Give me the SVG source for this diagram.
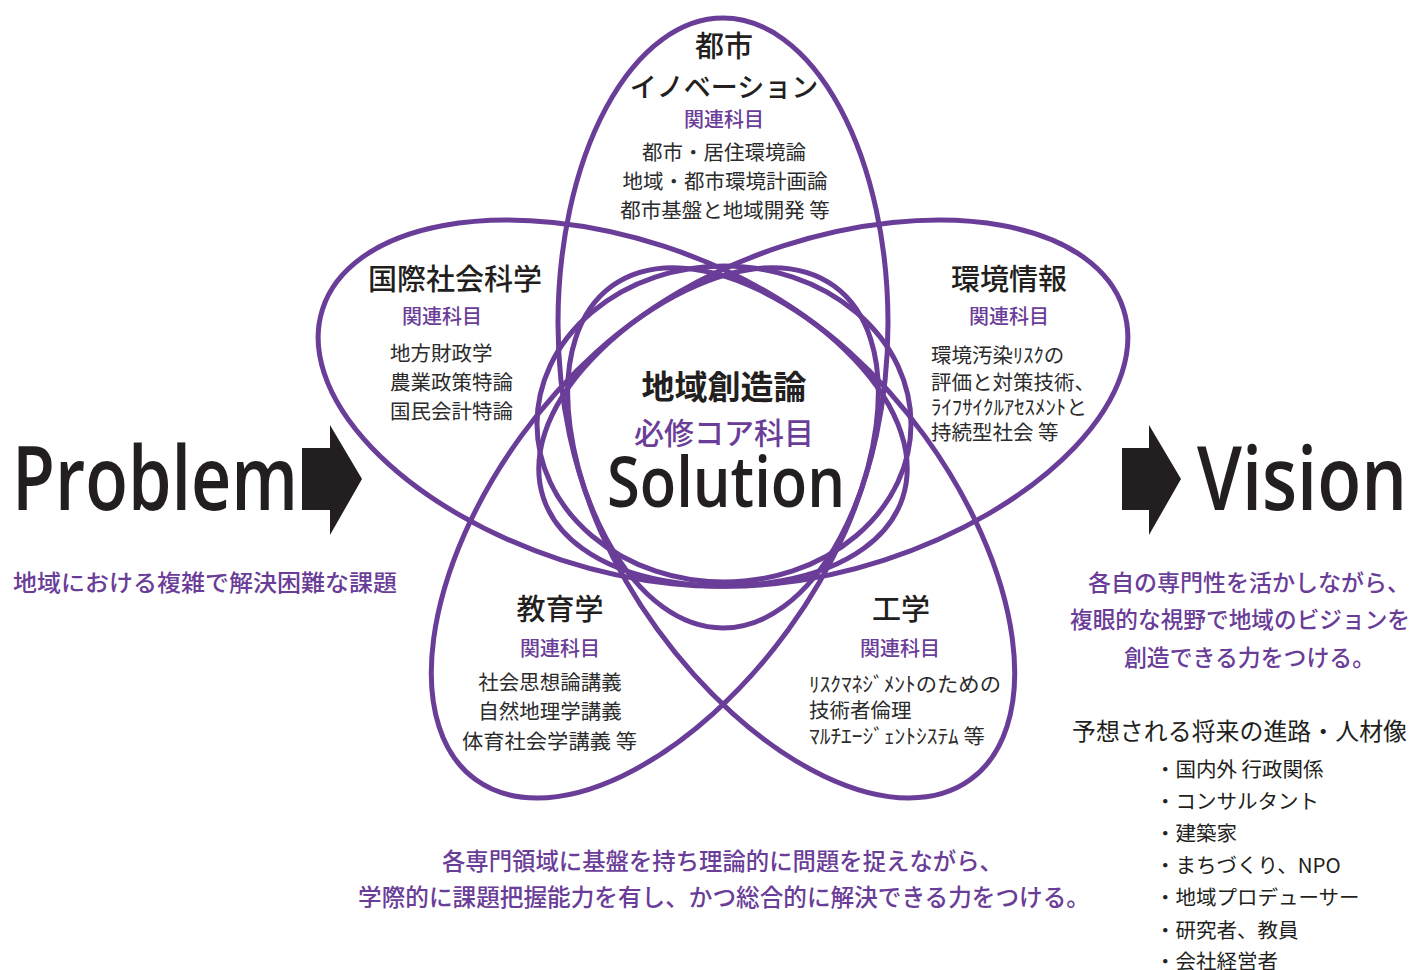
<svg xmlns="http://www.w3.org/2000/svg" width="1412" height="970" viewBox="0 0 1412 970">
<style>
.petal{fill:none;stroke:#6a3d98;stroke-width:5}
.jp{font-family:"Noto Sans CJK JP","Noto Sans",sans-serif;fill:#231f20}
.ttl{font-size:29px;font-weight:500;text-anchor:middle}
.sub{font-size:20px;font-weight:500;fill:#6a3d98;text-anchor:middle}
.itm{font-size:20.5px;font-weight:400;fill:#2b2b2b}
.pur{font-family:"Noto Sans CJK JP","Noto Sans",sans-serif;fill:#6a3d98;font-weight:500}
.big{font-family:"Open Sans","Noto Sans",sans-serif;fill:#231f20;font-weight:600}
.arr{fill:#231f20}
</style>
<rect width="1412" height="970" fill="#ffffff"/>
<g id="petals">
<ellipse id="petal-top" class="petal" cx="723" cy="323" rx="165" ry="305"/>
<ellipse id="petal-upper-right" class="petal" cx="723" cy="323" rx="165" ry="305" transform="rotate(72 723 439)"/>
<ellipse id="petal-lower-right" class="petal" cx="723" cy="323" rx="165" ry="305" transform="rotate(144 723 439)"/>
<ellipse id="petal-lower-left" class="petal" cx="723" cy="323" rx="165" ry="305" transform="rotate(216 723 439)"/>
<ellipse id="petal-upper-left" class="petal" cx="723" cy="323" rx="165" ry="305" transform="rotate(288 723 439)"/>
<ellipse id="core" class="petal" cx="724" cy="424" rx="187" ry="158"/>
</g>
<g id="node-urban">
<text class="jp ttl" x="724" y="57" font-size="28">都市</text>
<text class="jp ttl" x="724" y="97" style="font-size:27px">イノベーション</text>
<text class="jp sub" x="724" y="127">関連科目</text>
<text class="jp itm" x="724" y="160" text-anchor="middle">都市・居住環境論</text>
<text class="jp itm" x="725" y="189" text-anchor="middle">地域・都市環境計画論</text>
<text class="jp itm" x="725" y="218" text-anchor="middle">都市基盤と地域開発 等</text>
</g>
<g id="node-intl">
<text class="jp ttl" x="455" y="290">国際社会科学</text>
<text class="jp sub" x="442" y="324">関連科目</text>
<text class="jp itm" x="390" y="361">地方財政学</text>
<text class="jp itm" x="390" y="390">農業政策特論</text>
<text class="jp itm" x="390" y="419">国民会計特論</text>
</g>
<g id="node-env">
<text class="jp ttl" x="1009" y="290">環境情報</text>
<text class="jp sub" x="1009" y="324">関連科目</text>
<text class="jp itm" x="931" y="363">環境汚染ﾘｽｸの</text>
<text class="jp itm" x="931" y="390">評価と対策技術、</text>
<text class="jp itm" x="931" y="415" textLength="156" lengthAdjust="spacingAndGlyphs">ﾗｲﾌｻｲｸﾙｱｾｽﾒﾝﾄと</text>
<text class="jp itm" x="931" y="440">持続型社会 等</text>
</g>
<g id="node-edu">
<text class="jp ttl" x="560" y="620">教育学</text>
<text class="jp sub" x="560" y="656">関連科目</text>
<text class="jp itm" x="550" y="690" text-anchor="middle">社会思想論講義</text>
<text class="jp itm" x="550" y="719" text-anchor="middle">自然地理学講義</text>
<text class="jp itm" x="462" y="749" textLength="175" lengthAdjust="spacingAndGlyphs">体育社会学講義 等</text>
</g>
<g id="node-eng">
<text class="jp ttl" x="901" y="620">工学</text>
<text class="jp sub" x="900" y="656">関連科目</text>
<text class="jp itm" x="809" y="692" textLength="192" lengthAdjust="spacingAndGlyphs">ﾘｽｸﾏﾈｼﾞﾒﾝﾄのための</text>
<text class="jp itm" x="809" y="718">技術者倫理</text>
<text class="jp itm" x="809" y="744" textLength="176" lengthAdjust="spacingAndGlyphs">ﾏﾙﾁｴｰｼﾞｪﾝﾄｼｽﾃﾑ 等</text>
</g>
<g id="node-core">
<text class="jp" x="724" y="399" text-anchor="middle" font-size="33" font-weight="700">地域創造論</text>
<text class="pur" x="724" y="444" text-anchor="middle" font-size="30">必修コア科目</text>
<text class="big" x="607" y="507" font-size="70" textLength="238" lengthAdjust="spacingAndGlyphs">Solution</text>
</g>
<g id="node-problem">
<text class="big" x="12" y="510" font-size="88" textLength="286" lengthAdjust="spacingAndGlyphs">Problem</text>
<text class="pur" x="13" y="591" font-size="23" textLength="384" lengthAdjust="spacingAndGlyphs">地域における複雑で解決困難な課題</text>
</g>
<g id="node-vision">
<text class="big" x="1197" y="510" font-size="88" textLength="210" lengthAdjust="spacingAndGlyphs">Vision</text>
<text class="pur" x="1088" y="591" font-size="23" textLength="322" lengthAdjust="spacingAndGlyphs">各自の専門性を活かしながら、</text>
<text class="pur" x="1070" y="628" font-size="23" textLength="340" lengthAdjust="spacingAndGlyphs">複眼的な視野で地域のビジョンを</text>
<text class="pur" x="1124" y="666" font-size="23" textLength="251" lengthAdjust="spacingAndGlyphs">創造できる力をつける。</text>
<text class="jp" x="1072" y="740" font-size="23.7" textLength="335" lengthAdjust="spacingAndGlyphs">予想される将来の進路・人材像</text>
<g class="jp" font-size="20.5">
<text x="1155" y="777">・国内外 行政関係</text>
<text x="1155" y="809">・コンサルタント</text>
<text x="1155" y="841">・建築家</text>
<text x="1155" y="873">・まちづくり、NPO</text>
<text x="1155" y="905">・地域プロデューサー</text>
<text x="1155" y="938">・研究者、教員</text>
<text x="1155" y="969">・会社経営者</text>
</g>
</g>
<g id="node-bottom">
<text class="pur" x="442" y="870" font-size="23.4" textLength="561" lengthAdjust="spacingAndGlyphs">各専門領域に基盤を持ち理論的に問題を捉えながら、</text>
<text class="pur" x="358" y="906" font-size="23.6" textLength="732" lengthAdjust="spacingAndGlyphs">学際的に課題把握能力を有し、かつ総合的に解決できる力をつける。</text>
</g>
<g id="connectors">
<polygon class="arr" points="302,448 330,448 330,425 362,479 330,535 330,510 302,510"/>
<polygon class="arr" points="1122,448 1149,448 1149,425 1181,479 1149,535 1149,510 1122,510"/>
</g>
</svg>
